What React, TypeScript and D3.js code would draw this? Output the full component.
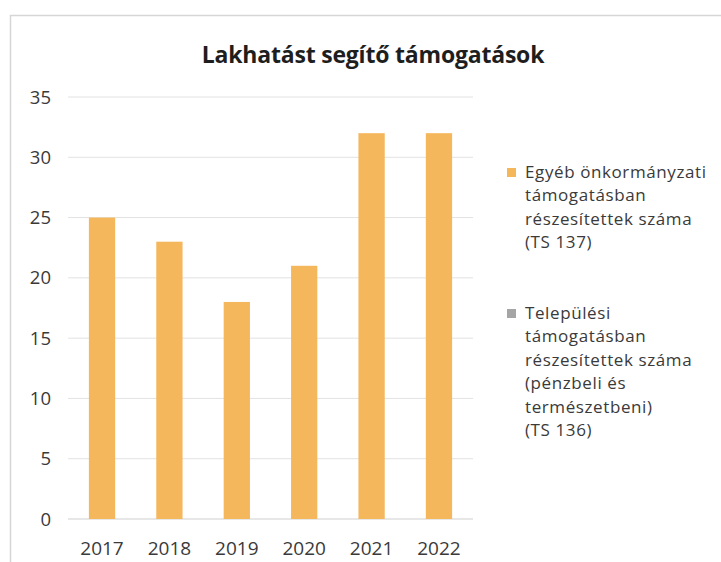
import React from "react";
import * as d3 from "d3";

const years = ["2017", "2018", "2019", "2020", "2021", "2022"];
const egyebValues = [25, 23, 18, 21, 32, 32];
const yTicks = [0, 5, 10, 15, 20, 25, 30, 35];
const title = "Lakhatást segítő támogatások";
const legend1 = ["Egyéb önkormányzati", "támogatásban", "részesítettek száma", "(TS 137)"];
const legend2 = ["Települési", "támogatásban", "részesítettek száma", "(pénzbeli és", "természetbeni)", "(TS 136)"];

const W = 721, H = 562;
const font = "'Open Sans', 'Noto Sans', sans-serif";
const textColor = "#3a3a3a";

export default function App() {
  const x = d3.scaleBand().domain(years).range([68, 473]).paddingInner(0.61).paddingOuter(0.31);
  const y = d3.scaleLinear().domain([0, 35]).range([519, 97]);
  return (
    <svg width={W} height={H} style={{ position: "absolute", left: 0, top: 0, background: "#fff" }}>
      <rect x={0} y={0} width={W} height={H} fill="#fff" />
      <path d={`M10.5,${H} V15.5 H${W}`} fill="none" stroke="#d6d6d6" strokeWidth={1.5} />
      <text x={373} y={63} textAnchor="middle" fontFamily={font} fontWeight={700} fontSize={23} fill="#1e1e1e" letterSpacing={-0.2}>{title}</text>
      {yTicks.map(t => (
        <g key={t}>
          <line x1={68} x2={473} y1={y(t)} y2={y(t)} stroke={t === 0 ? "#cfcfcf" : "#e2e2e2"} strokeWidth={1} />
          <text x={51} y={y(t) + 6.5} textAnchor="end" fontFamily={font} fontSize={18.5} fill={textColor}>{t}</text>
        </g>
      ))}
      {years.map((yr, i) => (
        <rect key={yr} x={x(yr)!} y={y(egyebValues[i])} width={x.bandwidth()} height={y(0) - y(egyebValues[i])} fill="#F5B75C" />
      ))}
      {years.map(yr => (
        <text key={yr} x={x(yr)! + x.bandwidth() / 2} y={555} textAnchor="middle" fontFamily={font} fontSize={19} fill={textColor}>{yr}</text>
      ))}
      <rect x={507} y={168} width={9} height={9} fill="#F5B75C" />
      {legend1.map((l, i) => (
        <text key={i} x={525} y={178 + i * 23.3} fontFamily={font} fontSize={17} letterSpacing={0.6} fill={textColor}>{l}</text>
      ))}
      <rect x={507} y={309} width={9} height={9} fill="#A5A5A5" />
      {legend2.map((l, i) => (
        <text key={i} x={525} y={319 + i * 23.4} fontFamily={font} fontSize={17} letterSpacing={0.6} fill={textColor}>{l}</text>
      ))}
    </svg>
  );
}
